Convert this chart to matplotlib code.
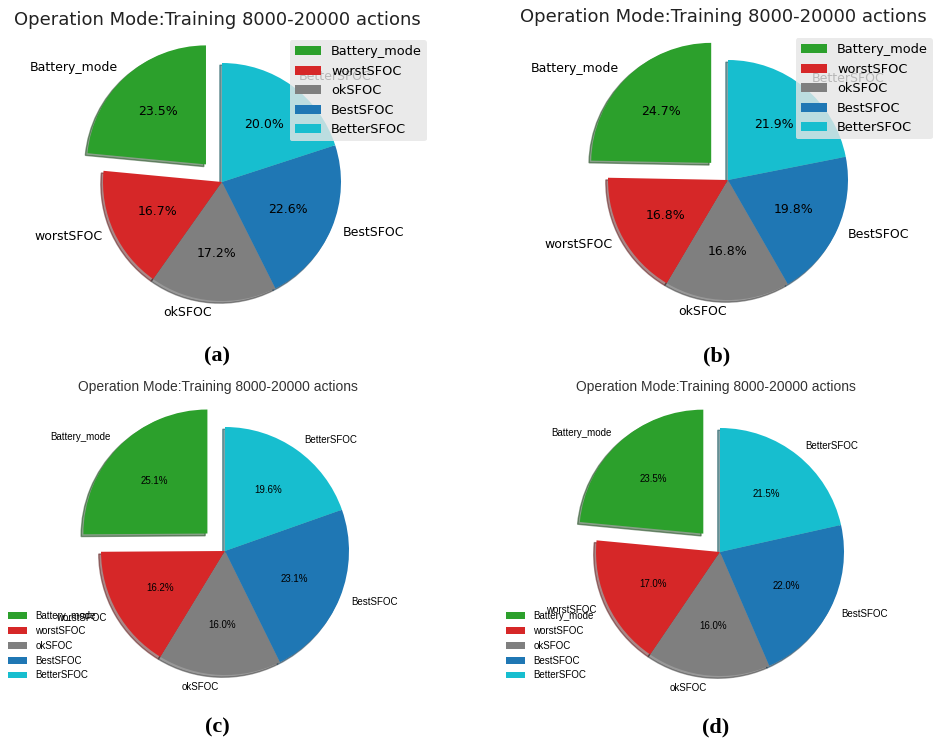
import matplotlib.pyplot as plt

labels = ["Battery_mode", "worstSFOC", "okSFOC", "BestSFOC", "BetterSFOC"]
colors = ["#2ca02c", "#d62728", "#7f7f7f", "#1f77b4", "#17becf"]
explode = [0.2, 0, 0, 0, 0]

share_a = [23.5, 16.7, 17.2, 22.6, 20.0]
share_b = [24.7, 16.8, 16.8, 19.8, 21.9]
share_c = [25.1, 16.2, 16.0, 23.1, 19.6]
share_d = [23.5, 17.0, 16.0, 22.0, 21.5]

title = "Operation Mode:Training 8000-20000 actions"
W, H = 937, 738
L = 1.5

fig = plt.figure(figsize=(W / 100, H / 100), dpi=100)


def px(x, y):
    return x / W, 1 - y / H


def pie_panel(values, cx, cy, r, font, fs, pct_fs):
    ax = fig.add_axes([(cx - L * r) / W, 1 - (cy + L * r) / H,
                       2 * L * r / W, 2 * L * r / H])
    ax.pie(values, labels=labels, colors=colors, explode=explode,
           autopct="%1.1f%%", startangle=90,
           shadow={"ox": -0.013, "oy": -0.013, "shade": 0.6},
           textprops={"family": font, "fontsize": fs})
    for t in ax.texts:
        if t.get_text().endswith("%"):
            t.set_fontsize(pct_fs)
    ax.set_xlim(-L, L)
    ax.set_ylim(-L, L)
    ax.set_aspect("equal")
    return ax


# top row: DejaVu, legend in a grey box at the upper right
panels_top = [(share_a, 222, 182, 119, 217, 20, 427, 40, 217, "(a)"),
              (share_b, 728, 180, 120, 723, 17, 933, 38, 717, "(b)")]
for vals, cx, cy, r, tx, ty, lx, ly, capx, cap in panels_top:
    ax = pie_panel(vals, cx, cy, r, "DejaVu Sans", 9, 9)
    fig.text(*px(tx, ty), title, ha="center", va="center",
             family="DejaVu Sans", fontsize=13, color="#222222")
    ax.legend(loc="upper right", bbox_to_anchor=px(lx, ly),
              bbox_transform=fig.transFigure, borderaxespad=0,
              prop={"family": "DejaVu Sans", "size": 9.3},
              facecolor="#e5e5e5", edgecolor="none", framealpha=0.8)
    fig.text(*px(capx, 356), cap, ha="center", va="center",
             family="Liberation Serif", fontweight="bold", fontsize=16)

# bottom row: Arial-like, frameless legend at the lower left
panels_bottom = [(share_c, 225, 551, 124, 218, 8, 217, "(c)"),
                 (share_d, 720, 552, 124, 716, 506, 716, "(d)")]
for vals, cx, cy, r, tx, lx, capx, cap in panels_bottom:
    ax = pie_panel(vals, cx, cy, r, "Liberation Sans", 7, 7)
    fig.text(*px(tx, 387), title, ha="center", va="center",
             family="Liberation Sans", fontsize=10, color="#333333")
    ax.legend(loc="upper left", bbox_to_anchor=px(lx, 611),
              bbox_transform=fig.transFigure, borderaxespad=0,
              borderpad=0, frameon=False,
              prop={"family": "Liberation Sans", "size": 7})
    fig.text(*px(capx, 727), cap, ha="center", va="center",
             family="Liberation Serif", fontweight="bold", fontsize=16)

fig.savefig("out.png", dpi=100)
